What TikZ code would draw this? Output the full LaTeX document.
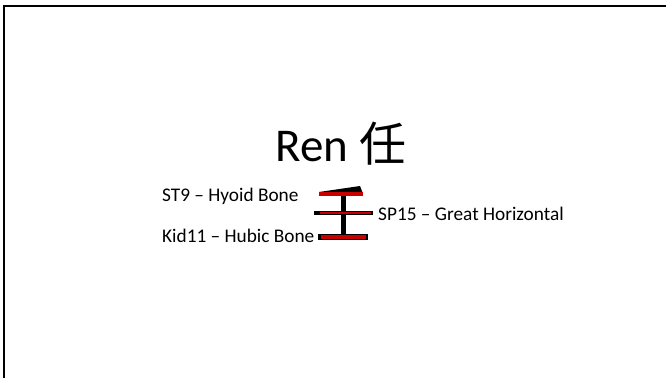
\documentclass[tikz,border=0pt]{standalone}
\usepackage{fontspec}
\setmainfont{Carlito}
\newfontfamily\cjk{Noto Sans CJK SC}
\usetikzlibrary{positioning}
\definecolor{darkred}{RGB}{200,0,0}

\begin{document}
\begin{tikzpicture}[x=1pt, y=-1pt]
\tikzstyle{heading}=[font=\fontsize{47}{52}\selectfont, inner sep=0pt, anchor=base];
\tikzstyle{point}=[font=\fontsize{19.3}{22}\selectfont, inner sep=0pt, anchor=base west];
\tikzstyle{ink}=[fill=black];
\tikzstyle{meridian}=[fill=darkred];
\useasboundingbox (0,0) rectangle (666,378);

% slide frame
\draw[line width=2pt] (4,378) -- (4,6) -- (666,6);

\node[heading] (ren) at (341,161) {Ren {\cjk 任}};

\node[point] (st9) at (162,201) {ST9 – Hyoid Bone};
\node[point] (sp15) at (378,220) {SP15 – Great Horizontal};
\node[point] (kid11) at (162,242) {Kid11 – Hubic Bone};

% the character, strokes in black, points in red
\fill[ink] (319,192) -- (360,186) -- (362.5,192.5) -- cycle;
\fill[ink] (340.7,194) rectangle (346,235);
\fill[ink] (314,210.7) rectangle (372.5,215.3);
\fill[ink] (318,234) rectangle (367.5,240);
\fill[meridian] (319,192) rectangle (363,195.7);
\fill[meridian] (320,211.7) rectangle (371,214.3);
\fill[meridian] (321,235) rectangle (365.5,239);
\end{tikzpicture}
\end{document}
